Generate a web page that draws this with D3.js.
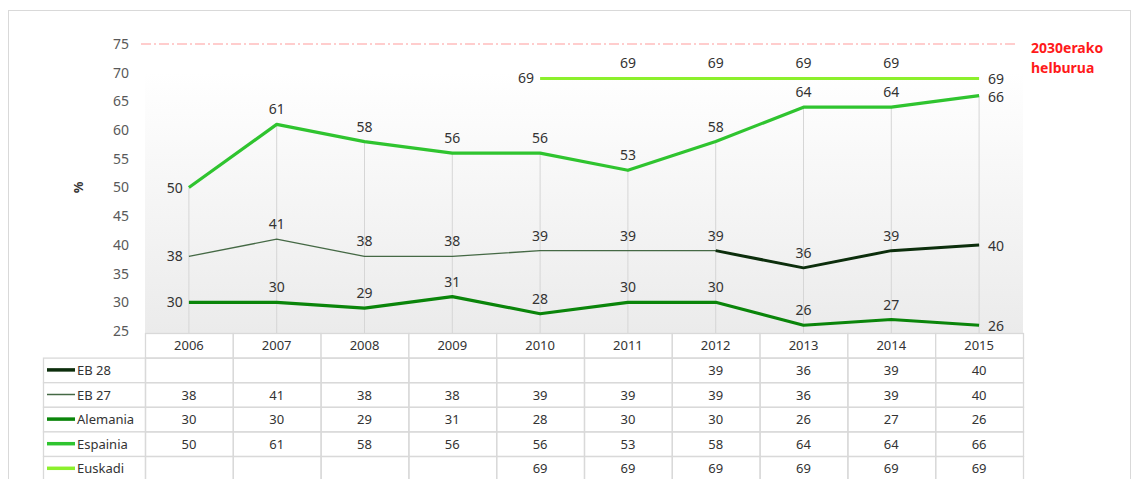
<html>
<script src="https://cdn.jsdelivr.net/npm/d3@7"></script>
<style>
  body { margin: 0; background: #fff; }
  text { font-family: "Noto Sans", "Open Sans", sans-serif; }
</style>
<body>
<svg width="1137" height="479"></svg>
<script>
// data
var years = ["2006", "2007", "2008", "2009", "2010", "2011", "2012", "2013", "2014", "2015"];
var seriesNames = ["EB 28", "EB 27", "Alemania", "Espainia", "Euskadi"];
var eb28 = [null, null, null, null, null, null, 39, 36, 39, 40];
var eb27 = [38, 41, 38, 38, 39, 39, 39, 36, 39, 40];
var alemania = [30, 30, 29, 31, 28, 30, 30, 26, 27, 26];
var espainia = [50, 61, 58, 56, 56, 53, 58, 64, 64, 66];
var euskadi = [null, null, null, null, 69, 69, 69, 69, 69, 69];
var yTicks = [25, 30, 35, 40, 45, 50, 55, 60, 65, 70, 75];
var target = 75;
var targetLabel = ["2030erako", "helburua"];

var values = [eb28, eb27, alemania, espainia, euskadi];
var colors = ["#0c2e0c", "#456945", "#0a850a", "#2fc42f", "#8cf02c"];
var widths = [3, 1.3, 3.2, 3.2, 3];
// which points get a visible label (EB 27 hidden where EB 28 overlaps)
var showLabel = [
  [0, 0, 0, 0, 0, 0, 0, 1, 1, 1],
  [1, 1, 1, 1, 1, 1, 1, 0, 0, 0],
  [1, 1, 1, 1, 1, 1, 1, 1, 1, 1],
  [1, 1, 1, 1, 1, 1, 1, 1, 1, 1],
  [1, 1, 1, 1, 1, 1, 1, 1, 1, 1]
];

var svg = d3.select("svg");

// outer frame
svg.append("rect").attr("x", 8.5).attr("y", 10.5).attr("width", 1122).attr("height", 480)
  .attr("fill", "none").attr("stroke", "#d9d9d9");

var left = 145, right = 1023;
var x = d3.scaleBand().domain(years).range([left, right]);
var y = d3.scaleLinear().domain([25, 75]).range([331, 44]);

// plot background gradient
var grad = svg.append("defs").append("linearGradient").attr("id", "bg")
  .attr("x1", 0).attr("y1", 0).attr("x2", 0).attr("y2", 1);
grad.append("stop").attr("offset", "0%").attr("stop-color", "#ffffff");
grad.append("stop").attr("offset", "100%").attr("stop-color", "#ebebeb");
svg.append("rect").attr("x", left).attr("y", y(70)).attr("width", right - left)
  .attr("height", y(25) - y(70) + 2).attr("fill", "url(#bg)");

// drop lines from Espainia to the axis
svg.append("g").selectAll("line").data(years).enter().append("line")
  .attr("x1", function(d) { return x(d) + x.bandwidth() / 2; })
  .attr("x2", function(d) { return x(d) + x.bandwidth() / 2; })
  .attr("y1", function(d, i) { return y(espainia[i]); })
  .attr("y2", y(25) + 2)
  .attr("stroke", "#d6d6d6").attr("stroke-width", 1);

// y axis labels
var yAxis = svg.append("g").attr("transform", "translate(" + (left - 10) + ",0)")
  .call(d3.axisLeft(y).tickValues(yTicks).tickSize(0).tickPadding(6));
yAxis.select(".domain").remove();
yAxis.selectAll("text").attr("font-size", 14).attr("fill", "#595959")
  .style("font-family", "'Noto Sans', sans-serif");

svg.append("text").attr("transform", "translate(83," + y(50) + ") rotate(-90)")
  .attr("text-anchor", "middle").attr("font-size", 13).attr("font-weight", "bold")
  .attr("fill", "#333").text("%");

// target line
svg.append("line").attr("x1", left - 4).attr("x2", 1015)
  .attr("y1", y(target)).attr("y2", y(target))
  .attr("stroke", "#ff9c9c").attr("stroke-width", 1.2).attr("stroke-dasharray", "10,3,2,3");
svg.append("text").attr("x", 1031).attr("y", y(target) + 9)
  .attr("font-size", 14).attr("font-weight", "bold").attr("fill", "#ff1a1a")
  .selectAll("tspan").data(targetLabel).enter().append("tspan")
  .attr("x", 1031).attr("dy", function(d, i) { return i === 0 ? 0 : 20; })
  .text(function(d) { return d; });

// lines
var line = d3.line()
  .defined(function(d) { return d != null; })
  .x(function(d, i) { return x(years[i]) + x.bandwidth() / 2; })
  .y(function(d) { return y(d); });

var drawOrder = [1, 2, 3, 4, 0];
drawOrder.forEach(function(s) {
  svg.append("path").datum(values[s]).attr("d", line)
    .attr("fill", "none").attr("stroke", colors[s]).attr("stroke-width", widths[s])
    .attr("stroke-linejoin", "round");
});

// data labels
values.forEach(function(vals, s) {
  var idx = [];
  vals.forEach(function(v, i) { if (v != null) idx.push(i); });
  var first = idx[0], last = idx[idx.length - 1];
  idx.forEach(function(i) {
    if (!showLabel[s][i]) return;
    var cx = x(years[i]) + x.bandwidth() / 2, cy = y(vals[i]);
    var t = svg.append("text").attr("font-size", 14).attr("fill", "#333").text(vals[i]);
    if (i === first && s !== 0) {
      t.attr("x", cx - 6).attr("y", cy + 5).attr("text-anchor", "end");
    } else if (i === last) {
      t.attr("x", cx + 9).attr("y", cy + 6).attr("text-anchor", "start");
    } else {
      t.attr("x", cx).attr("y", cy - 10).attr("text-anchor", "middle");
    }
  });
});

// data table
var rowH = 24.6;
var top0 = 333;
var tg = svg.append("g");
var gridColor = "#d9d9d9";

// header row
years.forEach(function(yr) {
  tg.append("rect").attr("x", x(yr) + 0.5).attr("y", top0 + 0.5)
    .attr("width", x.bandwidth()).attr("height", rowH)
    .attr("fill", "#fff").attr("stroke", gridColor).attr("stroke-width", 1.3);
  tg.append("text").attr("x", x(yr) + x.bandwidth() / 2).attr("y", top0 + rowH / 2 + 5)
    .attr("text-anchor", "middle").attr("font-size", 13).attr("fill", "#333").text(yr);
});

seriesNames.forEach(function(name, s) {
  var ry = top0 + rowH * (s + 1);
  tg.append("rect").attr("x", 43.5).attr("y", ry + 0.5).attr("width", left - 43)
    .attr("height", rowH).attr("fill", "#fff").attr("stroke", gridColor).attr("stroke-width", 1.3);
  tg.append("line").attr("x1", 47).attr("x2", 75).attr("y1", ry + rowH / 2).attr("y2", ry + rowH / 2)
    .attr("stroke", colors[s]).attr("stroke-width", s === 1 ? 1.5 : 3.5);
  tg.append("text").attr("x", 77).attr("y", ry + rowH / 2 + 5)
    .attr("font-size", 13).attr("fill", "#333").text(name);
  years.forEach(function(yr, i) {
    tg.append("rect").attr("x", x(yr) + 0.5).attr("y", ry + 0.5)
      .attr("width", x.bandwidth()).attr("height", rowH)
      .attr("fill", "none").attr("stroke", gridColor).attr("stroke-width", 1.3);
    if (values[s][i] != null) {
      tg.append("text").attr("x", x(yr) + x.bandwidth() / 2).attr("y", ry + rowH / 2 + 5)
        .attr("text-anchor", "middle").attr("font-size", 13).attr("fill", "#333")
        .text(values[s][i]);
    }
  });
});
</script>
</body>
</html>
